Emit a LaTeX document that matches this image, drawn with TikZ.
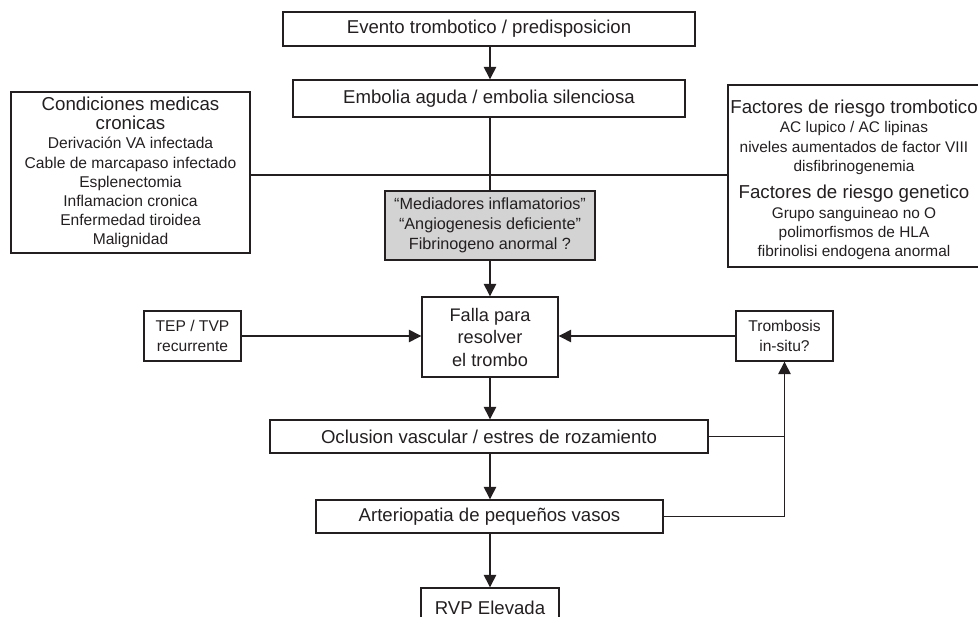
\documentclass[tikz,border=0pt]{standalone}
\usepackage{fontspec}
\setmainfont{Liberation Sans}
\usetikzlibrary{arrows.meta}
\definecolor{linec}{HTML}{231F20}
\definecolor{grayfill}{HTML}{D3D3D3}
\begin{document}
\begin{tikzpicture}[x=1pt,y=-1pt,
  box/.style={draw=linec, line width=1.4pt, rectangle, inner sep=0pt, align=center, text=linec},
  bigtxt/.style={font=\fontsize{18.6}{22.5}\selectfont},
  medtxt/.style={font=\fontsize{16.2}{20}\selectfont},
  smalltxt/.style={font=\fontsize{15.6}{19.5}\selectfont},
  conn/.style={draw=linec, line width=1.4pt},
  arr/.style={draw=linec, line width=1.4pt, -{Triangle[length=12.5pt,width=12.5pt]}}]
\useasboundingbox (0,0) rectangle (978,617);

\node[box, bigtxt, minimum width=412pt, minimum height=34pt] (evento) at (489,29) {Evento trombotico / predisposicion};
\node[box, bigtxt, minimum width=392pt, minimum height=37pt] (embolia) at (489,98.5) {Embolia aguda / embolia silenciosa};

\node[box, font=\fontsize{15.6}{19.2}\selectfont, minimum width=239pt, minimum height=161pt] (cond) at (130.5,172.5)
  {{\fontsize{18.7}{19.2}\selectfont Condiciones medicas}\\
   {\fontsize{18.7}{19.2}\selectfont cronicas}\\
   Derivación VA infectada\\
   Cable de marcapaso infectado\\
   Esplenectomia\\
   Inflamacion cronica\\
   Enfermedad tiroidea\\
   Malignidad};

\node[box, minimum width=262pt, minimum height=182pt] (riesgo) at (859,176) {};
\node[text=linec, align=center, inner sep=0pt, font=\fontsize{15.4}{19.3}\selectfont] (riesgotxt) at (854,180)
  {{\fontsize{18.7}{19.3}\selectfont Factores de riesgo trombotico}\\
   AC lupico / AC lipinas\\
   niveles aumentados de factor VIII\\
   disfibrinogenemia\\[8pt]
   {\fontsize{18.7}{19.3}\selectfont Factores de riesgo genetico}\\
   Grupo sanguineao no O\\
   polimorfismos de HLA\\
   fibrinolisi endogena anormal};

\node[box, medtxt, fill=grayfill, minimum width=210pt, minimum height=69pt] (med) at (490,225.5)
  {“Mediadores inflamatorios”\\“Angiogenesis deficiente”\\Fibrinogeno anormal ?};

\node[box, font=\fontsize{18.2}{22.5}\selectfont, minimum width=136pt, minimum height=80pt] (falla) at (490,337)
  {Falla para\\resolver\\el trombo};

\node[box, smalltxt, minimum width=97pt, minimum height=50pt] (tep) at (192.5,336)
  {TEP / TVP\\recurrente};
\node[box, smalltxt, minimum width=97pt, minimum height=50pt] (tromb) at (784.5,336)
  {Trombosis\\in-situ?};

\node[box, bigtxt, minimum width=438pt, minimum height=33pt] (oclu) at (489,436.5)
  {Oclusion vascular / estres de rozamiento};
\node[box, bigtxt, minimum width=347pt, minimum height=33pt] (arter) at (489.5,516.5)
  {Arteriopatia de pequeños vasos};
\node[box, bigtxt, minimum width=138pt, minimum height=40pt] (rvp) at (490,608)
  {RVP Elevada};

\coordinate (hl) at (0,175);
\draw[conn] (cond.east |- hl) -- (riesgo.west |- hl);

\draw[arr] (evento.south -| 490,0) -- (embolia.north -| 490,0);
\draw[conn] (embolia.south -| 490,0) -- (med.north -| 490,0);
\draw[arr] (med.south) -- (falla.north);
\draw[arr] (tep.east) -- (tep.east -| falla.west);
\draw[arr] (tromb.west) -- (tromb.west -| falla.east);
\draw[arr] (falla.south) -- (falla.south |- oclu.north);
\draw[arr] (oclu.south -| falla.south) -- (arter.north -| falla.south);
\draw[arr] (arter.south -| rvp.north) -- (rvp.north);
\draw[arr] (arter.east) -| (tromb.south);
\draw[conn] (oclu.east) -- (oclu.east -| tromb.south);
\end{tikzpicture}
\end{document}
